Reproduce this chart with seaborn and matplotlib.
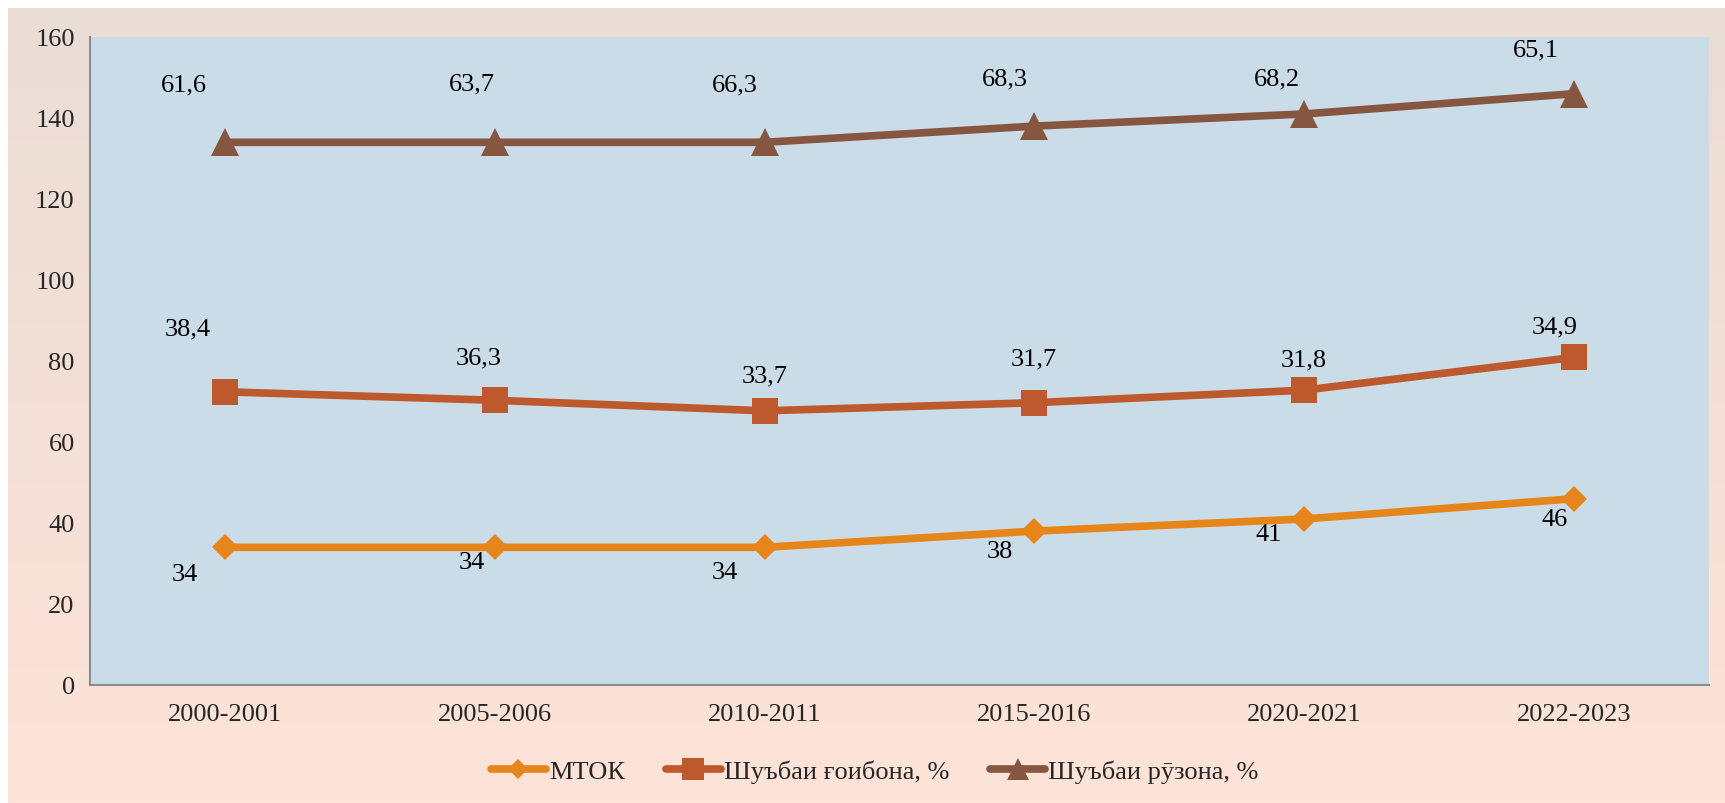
import numpy as np
import pandas as pd
import matplotlib
matplotlib.use("Agg")
import matplotlib.pyplot as plt
import seaborn as sns

# ---- data ----
categories = ["2000-2001", "2005-2006", "2010-2011", "2015-2016", "2020-2021", "2022-2023"]
mtok = [34, 34, 34, 38, 41, 46]
share_day = [38.4, 36.3, 33.7, 31.7, 31.8, 34.9]      # Шуъбаи ғоибона, %
share_full = [61.6, 63.7, 66.3, 68.3, 68.2, 65.1]     # Шуъбаи рӯзона, %
series_names = ["МТОК", "Шуъбаи ғоибона, %", "Шуъбаи рӯзона, %"]
y_ticks = [0, 20, 40, 60, 80, 100, 120, 140, 160]

# stacked line chart: plotted values are cumulative, labels show raw values
s1 = np.array(mtok, dtype=float)
s2 = s1 + np.array(share_day)
s3 = s2 + np.array(share_full)

def fmt(v):
    if float(v).is_integer():
        return str(int(v))
    return f"{v:.1f}".replace(".", ",")

sns.set_theme(style="white")
plt.rcParams["font.family"] = ["Liberation Serif", "DejaVu Serif"]

FS = 19
W, H, DPI = 1725, 804, 100
fig = plt.figure(figsize=(W / DPI, H / DPI), dpi=DPI)
fig.patch.set_facecolor("white")

# gradient outer background
bg = fig.add_axes([8 / W, 0, 1 - 8 / W, 1 - 9 / H], zorder=-10)
top_c = np.array([234, 221, 214]) / 255
bot_c = np.array([254, 227, 216]) / 255
t = np.linspace(0, 1, 256)[:, None]
grad = top_c[None, None, :] * (1 - t[..., None]) + bot_c[None, None, :] * t[..., None]
grad = np.repeat(grad, 2, axis=1)
bg.imshow(grad, aspect="auto", extent=[0, 1, 0, 1])
bg.axis("off")

ax = fig.add_axes([90 / W, 1 - 686 / H, (1709 - 90) / W, (686 - 38) / H])
ax.set_facecolor("#CADCE8")

x = np.arange(len(categories))
df = pd.DataFrame({
    "x": np.tile(x, 3),
    "y": np.concatenate([s1, s2, s3]),
    "series": np.repeat(series_names, len(x)),
})
colors = ["#E6861A", "#BE582D", "#875640"]
markers = ["D", "s", "^"]
msizes = [13, 19, 20]

handles = []
for name, col, mk, ms in zip(series_names, colors, markers, msizes):
    sub = df[df["series"] == name]
    sns.lineplot(data=sub, x="x", y="y", ax=ax, color=col, linewidth=5.5,
                 marker=mk, markersize=ms, markeredgewidth=0, legend=False,
                 solid_capstyle="round", zorder=3)
    handles.append(ax.lines[-1])

# data labels (offsets in pixels)
lab_sets = [
    (s1, mtok, [(-40, -27), (-23, -15), (-40, -25), (-35, -20), (-36, -15), (-19, -20)]),
    (s2, share_day, [(-37, 63), (-16, 43), (0, 35), (-1, 44), (0, 31), (-19, 31)]),
    (s3, share_full, [(-41, 58), (-23, 59), (-30, 58), (-30, 48), (-27, 35), (-38, 44)]),
]
for ys, vals, offs in lab_sets:
    for xi, yi, v, (dx, dy) in zip(x, ys, vals, offs):
        ax.annotate(fmt(v), (xi, yi), xytext=(dx, dy), textcoords="offset pixels",
                    ha="center", va="center", fontsize=FS, color="black", zorder=5)

ax.set_xlim(-0.5, len(categories) - 0.5)
ax.set_ylim(0, 160)
ax.set_yticks(y_ticks)
ax.set_yticklabels([str(v) for v in y_ticks], fontsize=FS)
ax.set_xticks(np.arange(-0.5, len(categories), 1.0))
ax.set_xticklabels([])
ax.set_xticks(x, minor=True)
ax.set_xticklabels(categories, minor=True, fontsize=FS)
ax.tick_params(axis="x", which="minor", length=0, pad=13)
ax.tick_params(axis="x", which="major", length=7, width=1.5, color="#8C8C8C", direction="out")
ax.tick_params(axis="y", length=7, width=1.5, color="#8C8C8C", direction="out", pad=4)
ax.set_xlabel("")
ax.set_ylabel("")
for side in ["top", "right"]:
    ax.spines[side].set_visible(False)
for side in ["left", "bottom"]:
    ax.spines[side].set_color("#8C8C8C")
    ax.spines[side].set_linewidth(1.5)

leg = fig.legend(handles, series_names, loc="center", bbox_to_anchor=(0.507, 1 - 772 / H),
                 ncol=3, frameon=False, fontsize=FS, handlelength=2.1, handletextpad=0.1,
                 columnspacing=1.55, markerscale=0.8)

fig.savefig("out.png", dpi=DPI)
